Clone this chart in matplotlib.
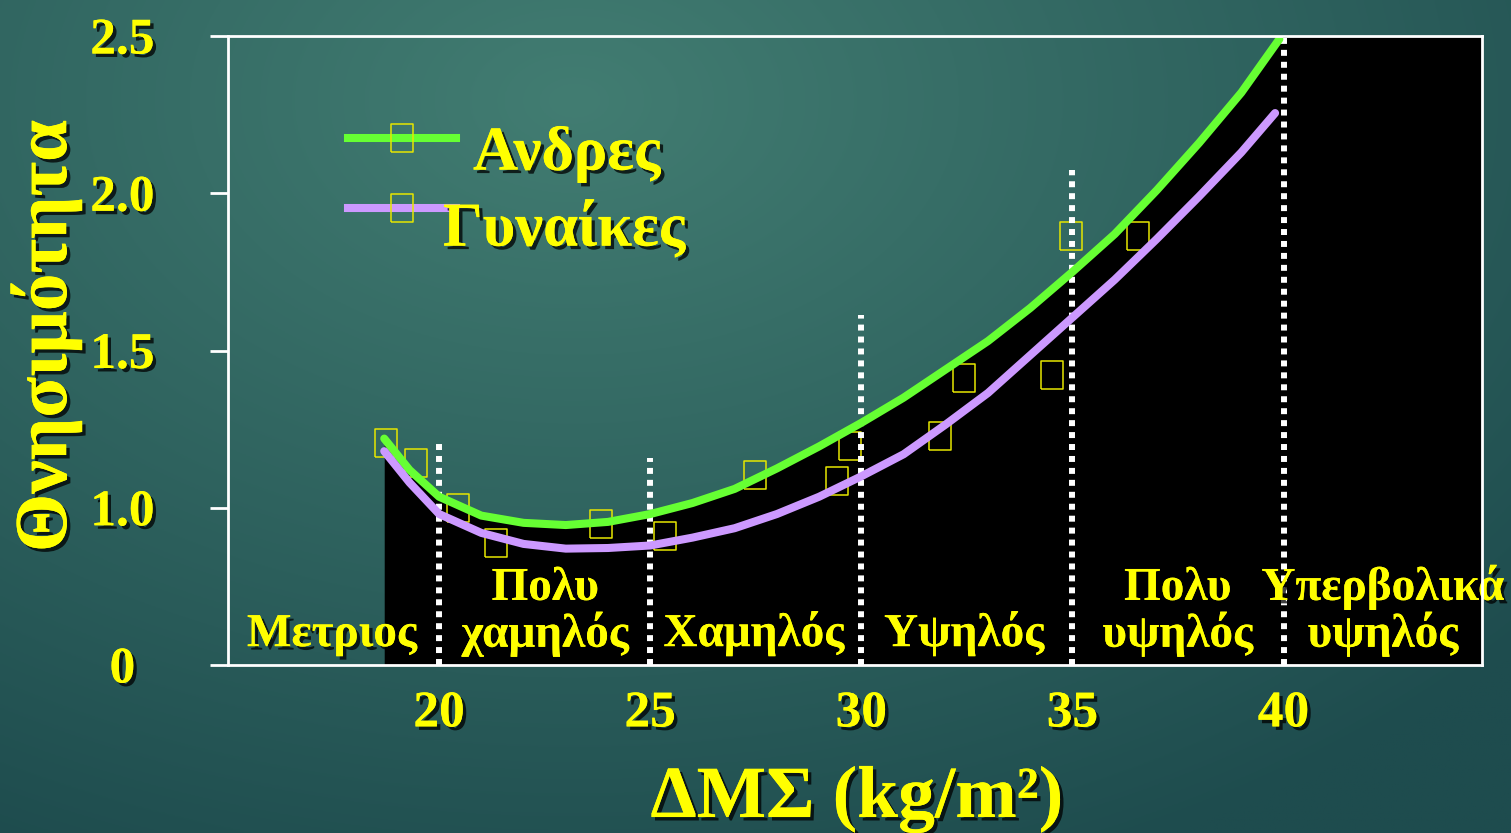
import numpy as np
import matplotlib.pyplot as plt
import matplotlib.patheffects as pe
import matplotlib.transforms as mtransforms
from matplotlib.lines import Line2D

# Θνησιμότητα ανά ΔΜΣ (σχετικός κίνδυνος)
bmi_men = [18.7, 19.3, 20.0, 21.0, 22.0, 23.0, 24.0, 25.0, 26.0, 27.0, 28.0, 29.0,
           30.0, 31.0, 32.0, 33.0, 34.0, 35.0, 36.0, 37.0, 38.0, 39.0, 39.9]
risk_men = [1.22, 1.12, 1.035, 0.975, 0.952, 0.945, 0.955, 0.98, 1.015, 1.06, 1.125, 1.195,
            1.27, 1.35, 1.44, 1.53, 1.635, 1.75, 1.87, 2.01, 2.16, 2.32, 2.49]

bmi_women = [18.7, 19.3, 20.0, 21.0, 22.0, 23.0, 24.0, 25.0, 26.0, 27.0, 28.0, 29.0,
             30.0, 31.0, 32.0, 33.0, 34.0, 35.0, 36.0, 37.0, 38.0, 39.0, 39.8]
risk_women = [1.18, 1.08, 0.98, 0.92, 0.885, 0.87, 0.872, 0.88, 0.905, 0.935, 0.98, 1.035,
              1.10, 1.17, 1.265, 1.365, 1.485, 1.605, 1.725, 1.855, 1.99, 2.13, 2.255]

# observed points
obs_bmi_men = [18.74, 20.45, 23.84, 27.47, 29.73, 32.43, 34.97, 36.56]
obs_risk_men = [1.206, 0.999, 0.948, 1.104, 1.196, 1.413, 1.864, 1.864]
obs_bmi_women = [19.45, 21.35, 25.36, 29.42, 31.86, 34.52]
obs_risk_women = [1.142, 0.888, 0.910, 1.085, 1.228, 1.422]

# category borders and how high the dotted separators reach
cut_bmi = [20, 25, 30, 35, 40]
cut_top = [1.215, 1.158, 1.613, 2.074, 2.5]

categories = [
    (17.46, ["Μετριος"]),
    (22.51, ["Πολυ", "χαμηλός"]),
    (27.45, ["Χαμηλός"]),
    (32.43, ["Υψηλός"]),
    (37.49, ["Πολυ", "υψηλός"]),
    (42.35, ["Υπερβολικά", "υψηλός"]),
]

series_labels = ["Ανδρες", "Γυναίκες"]
x_ticks = [20, 25, 30, 35, 40]
y_ticks = [0.5, 1.0, 1.5, 2.0, 2.5]
y_tick_labels = ["0", "1.0", "1.5", "2.0", "2.5"]

YELLOW = "#FFFF00"
GREEN = "#66FF33"
PURPLE = "#CC99FF"
FONT = dict(family="Liberation Serif", weight="bold")
SHADOW = [pe.withSimplePatchShadow(offset=(2.5, -2.5), shadow_rgbFace="black", alpha=0.75),
          pe.Normal()]

fig = plt.figure(figsize=(15.11, 8.33), dpi=100)

# teal slide background
bg = fig.add_axes([0, 0, 1, 1], zorder=-10)
yy, xx = np.mgrid[0:1:400j, 0:1:700j]
r = np.sqrt(((xx - 0.38) * 1.2) ** 2 + ((yy - 0.12) * 1.0) ** 2)
t = np.clip(r / 1.0, 0, 1)[..., None]
inner = np.array([66, 125, 114]) / 255
outer = np.array([30, 76, 78]) / 255
bg.imshow(inner * (1 - t) + outer * t, aspect="auto", extent=[0, 1, 1, 0])
bg.axis("off")

ax = fig.add_axes([228 / 1511, 168 / 833, 1254 / 1511, 629 / 833])
ax.set_facecolor("none")
ax.set_xlim(15, 44.7)
ax.set_ylim(0.5, 2.5)

# black region under the men's curve, full height beyond 40
ax.fill_between(bmi_men, 0.5, risk_men, color="black", lw=0, zorder=1)
ax.axvspan(bmi_men[-1], 44.7, color="black", lw=0, zorder=1)

rect = [(-0.39, -0.5), (0.39, -0.5), (0.39, 0.5), (-0.39, 0.5), (-0.39, -0.5)]
mk = dict(marker=rect, markersize=19.5, mfc="none", mec="#E6E600", mew=1.1)
ax.plot(obs_bmi_men, obs_risk_men, ls="none", zorder=2, **mk)
ax.plot(obs_bmi_women, obs_risk_women, ls="none", zorder=2, **mk)

for xc, top in zip(cut_bmi, cut_top):
    ax.plot([xc, xc], [0.5, top], color="white", lw=4.3, ls=(0, (1, 1)),
            dash_capstyle="butt", zorder=3)

ax.plot(bmi_men, risk_men, color=GREEN, lw=5.8, solid_capstyle="round", zorder=4)
ax.plot(bmi_women, risk_women, color=PURPLE, lw=5.8, solid_capstyle="round", zorder=4)

for xc, lines in categories:
    ys = [0.560] if len(lines) == 1 else [0.707, 0.558]
    for line, yv in zip(lines, ys):
        ax.text(xc, yv, line, ha="center", va="baseline", color=YELLOW, fontsize=34,
                path_effects=SHADOW, zorder=5, clip_on=False, **FONT)

handles = [Line2D([], [], color=GREEN, lw=5.8, **mk),
           Line2D([], [], color=PURPLE, lw=5.8, **mk)]
leg = ax.legend(handles, series_labels, loc="upper left",
                bbox_to_anchor=(0.0957, 0.875), frameon=False, numpoints=1,
                handlelength=1.72, handletextpad=0.12, labelspacing=0.16,
                borderpad=0, borderaxespad=0,
                prop=dict(family="Liberation Serif", weight="bold", size=45))
# labels sit lower than their sample lines and are centred on one another
label_shift = [(10, -10), (-20, -16)]
for txt, (dx, dy) in zip(leg.get_texts(), label_shift):
    txt.set_color(YELLOW)
    txt.set_path_effects(SHADOW)
    txt.set_transform(txt.get_transform()
                      + mtransforms.ScaledTranslation(dx / 100, dy / 100, fig.dpi_scale_trans))

for side in ["left", "right", "top", "bottom"]:
    ax.spines[side].set_color("white")
    ax.spines[side].set_linewidth(2)
    ax.spines[side].set_zorder(6)

ax.set_xticks(x_ticks)
ax.set_xticklabels([str(v) for v in x_ticks])
ax.set_yticks(y_ticks)
ax.set_yticklabels(y_tick_labels)
ax.tick_params(axis="x", length=0, pad=19, labelsize=37, labelcolor=YELLOW)
ax.tick_params(axis="y", direction="out", length=13, width=2, color="white",
               pad=63, labelsize=37, labelcolor=YELLOW)
for lbl in ax.get_xticklabels() + ax.get_yticklabels():
    lbl.set_fontfamily("Liberation Serif")
    lbl.set_fontweight("bold")
    lbl.set_path_effects(SHADOW)
for lbl in ax.get_yticklabels():
    lbl.set_horizontalalignment("center")

ax.set_xlabel("ΔΜΣ (kg/m²)", fontsize=53, color=YELLOW, path_effects=SHADOW,
              va="baseline", **FONT)
ax.xaxis.set_label_coords(0.5016, -0.2417)
ax.set_ylabel("Θνησιμότητα", fontsize=54, color=YELLOW, path_effects=SHADOW,
              va="center", ha="center", **FONT)
ax.yaxis.set_label_coords(-0.145, 0.523)

fig.savefig("out.png", dpi=100)
